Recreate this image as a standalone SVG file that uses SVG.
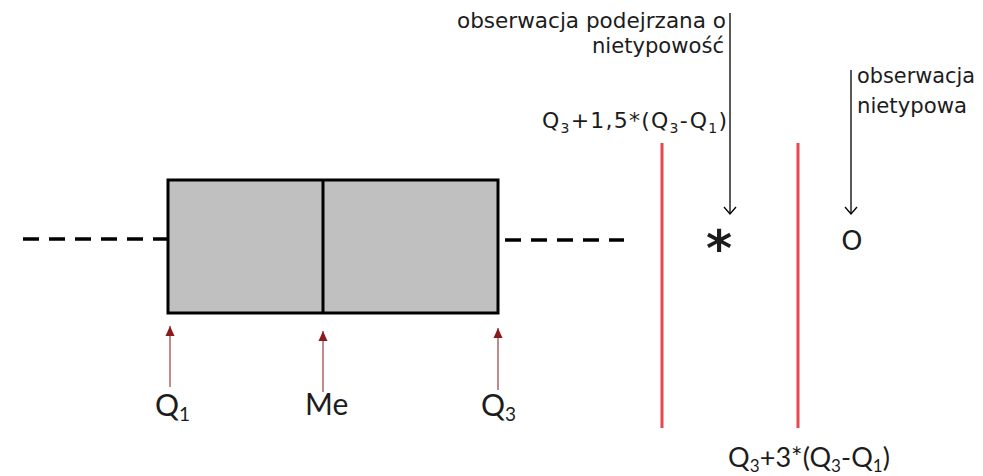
<svg xmlns="http://www.w3.org/2000/svg" width="983" height="476" viewBox="0 0 983 476">
  <defs>
    <style>
      .tah { font-family: "DejaVu Sans", "Liberation Sans", sans-serif; fill: #1c1c1c; }
      .cal { font-family: Lato, "Open Sans", "Liberation Sans", sans-serif; fill: #1c1c1c; }
      .box { fill: #c0c0c0; stroke: #000; stroke-width: 3; }
      .whisk { stroke: #000; stroke-width: 3.5; stroke-dasharray: 16 10; fill: none; }
      .limit { stroke: #e8474f; stroke-width: 3; fill: none; }
      .pointer { stroke: #000; stroke-width: 1.3; fill: none; marker-end: url(#openHead); }
      .mark { stroke: #c28a8a; stroke-width: 2; fill: none; marker-end: url(#redHead); }
    </style>
    <marker id="openHead" markerUnits="userSpaceOnUse" viewBox="0 0 14 14" refX="12" refY="7" markerWidth="14" markerHeight="14" orient="auto">
      <path d="M5,1 L12,7 L5,13" fill="none" stroke="#000" stroke-width="1.3"/>
    </marker>
    <marker id="redHead" markerUnits="userSpaceOnUse" viewBox="0 0 12 12" refX="11" refY="6" markerWidth="12" markerHeight="12" orient="auto">
      <path d="M1,1.5 L11,6 L1,10.5 Z" fill="#8b1a1a"/>
    </marker>
  </defs>

  <rect width="983" height="476" fill="#fff"/>

  <g id="whisker-left">
    <line class="whisk" x1="23" y1="239" x2="168" y2="239"/>
  </g>
  <g id="whisker-right">
    <line class="whisk" x1="505" y1="240" x2="624" y2="240"/>
  </g>

  <g id="box">
    <rect class="box" x="168" y="180" width="330" height="133"/>
    <line x1="323" y1="180" x2="323" y2="313" stroke="#000" stroke-width="3"/>
  </g>

  <g id="limit-1-5">
    <line class="limit" x1="662" y1="143" x2="662" y2="428"/>
    <text class="tah" x="542" y="128" font-size="22" textLength="185" lengthAdjust="spacing">Q<tspan font-size="14" dy="5">3</tspan><tspan dy="-5">+1,5*(Q</tspan><tspan font-size="14" dy="5">3</tspan><tspan dy="-5">-Q</tspan><tspan font-size="14" dy="5">1</tspan><tspan dy="-5">)</tspan></text>
  </g>

  <g id="limit-3">
    <line class="limit" x1="798" y1="143" x2="798" y2="428"/>
    <text class="cal" x="728" y="467" font-size="27" textLength="162" lengthAdjust="spacing">Q<tspan font-size="17" dy="5">3</tspan><tspan dy="-5">+3*(Q</tspan><tspan font-size="17" dy="5">3</tspan><tspan dy="-5">-Q</tspan><tspan font-size="17" dy="5">1</tspan><tspan dy="-5">)</tspan></text>
  </g>

  <g id="suspect-outlier">
    <text class="tah" x="719" y="266" font-size="50" font-weight="bold" text-anchor="middle">*</text>
    <text class="tah" x="457" y="28" font-size="21" textLength="269" lengthAdjust="spacingAndGlyphs">obserwacja podejrzana o</text>
    <text class="tah" x="592" y="53" font-size="21" textLength="132" lengthAdjust="spacingAndGlyphs">nietypowość</text>
  </g>

  <g id="outlier">
    <text class="tah" x="852" y="250" font-size="27" text-anchor="middle">O</text>
    <text class="tah" x="857" y="83" font-size="21" textLength="118" lengthAdjust="spacingAndGlyphs">obserwacja</text>
    <text class="tah" x="857" y="113" font-size="21" textLength="110" lengthAdjust="spacingAndGlyphs">nietypowa</text>
  </g>

  <g id="label-q1">
    <text class="cal" x="155" y="416" font-size="30">Q<tspan font-size="19" dy="5">1</tspan></text>
  </g>
  <g id="label-me">
    <text class="cal" x="305" y="415" font-size="30">Me</text>
  </g>
  <g id="label-q3">
    <text class="cal" x="481" y="416" font-size="30">Q<tspan font-size="19" dy="5">3</tspan></text>
  </g>

  <g id="connectors">
    <line class="pointer" x1="730" y1="13" x2="730" y2="214"/>
    <line class="pointer" x1="851" y1="70" x2="851" y2="214"/>
    <line class="mark" x1="170" y1="387" x2="170" y2="326"/>
    <line class="mark" x1="323" y1="392" x2="323" y2="331"/>
    <line class="mark" x1="498" y1="390" x2="498" y2="328"/>
  </g>
</svg>
